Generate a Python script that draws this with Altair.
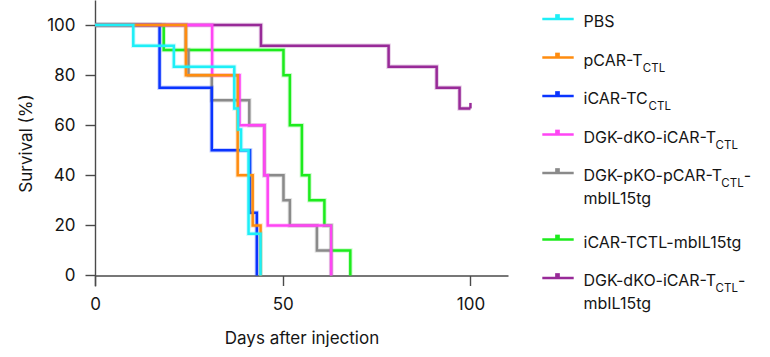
import altair as alt
import pandas as pd

# ---------------- data ----------------
groups = ["PBS", "pCAR-TCTL", "iCAR-TCCTL", "DGK-dKO-iCAR-TCTL",
          "DGK-pKO-pCAR-TCTL-mbIL15tg", "iCAR-TCTL-mbIL15tg",
          "DGK-dKO-iCAR-TCTL-mbIL15tg"]
colors = ["#1EEFF7", "#FF8C0F", "#0A34FF", "#FF45F4", "#8A8A8A", "#1DEB1D", "#982A98"]

pbs_days = [0, 10.2, 21.0, 37.1, 38.1, 38.9, 40.9, 44.1]
pbs_surv = [100, 91.7, 83.3, 66.7, 58.3, 50, 16.7, 0]
pcar_days = [0, 24.2, 38.0, 42.0, 44.1]
pcar_surv = [100, 80, 40, 20, 0]
icar_days = [0, 17.2, 31.1, 41.3, 43.1]
icar_surv = [100, 75, 50, 25, 0]
dgk_days = [0, 31.2, 38.5, 45.1, 46.0, 62.9]
dgk_surv = [100, 80, 60, 40, 20, 0]
pko15_days = [0, 24.2, 24.9, 31.1, 41.1, 45.1, 50.2, 51.9, 59.1, 62.9]
pko15_surv = [100, 90, 80, 70, 60, 40, 30, 20, 10, 0]
icar15_days = [0, 18.3, 50.2, 51.9, 55.1, 57.1, 61.1, 62.9, 68.0]
icar15_surv = [100, 90, 80, 60, 40, 30, 20, 10, 0]
dko15_days = [0, 44.2, 78.2, 91.0, 97.1, 100.0]
dko15_surv = [100, 91.7, 83.3, 75, 66.7, 66.7]

censor_group = ["DGK-dKO-iCAR-TCTL-mbIL15tg"]
censor_days = [100.0]
censor_surv = [66.7]

x_ticks = [0, 50, 100]
y_ticks = [0, 20, 40, 60, 80, 100]

# legend label pieces
leg_main = ["PBS", "pCAR-T", "iCAR-TC", "DGK-dKO-iCAR-T", "DGK-pKO-pCAR-T",
            "iCAR-TCTL-mbIL15tg", "DGK-dKO-iCAR-T"]
leg_sub = ["", "CTL", "CTL", "CTL", "CTL", "", "CTL"]
leg_tail = ["", "", "", "", "-", "", "-"]
leg_line2 = ["", "", "", "", "mbIL15tg", "", "mbIL15tg"]

series = [
    (pbs_days, pbs_surv), (pcar_days, pcar_surv), (icar_days, icar_surv),
    (dgk_days, dgk_surv), (pko15_days, pko15_surv), (icar15_days, icar15_surv),
    (dko15_days, dko15_surv),
]
rows = []
for g, (ds, ss) in zip(groups, series):
    for d, s in zip(ds, ss):
        rows.append({"group": g, "day": d, "surv": s})
surv_df = pd.DataFrame(rows)
censor_df = pd.DataFrame({"group": censor_group, "day": censor_days, "surv": censor_surv})

FONT = "Inter"
INK = "#151515"
AXC = "#4a4a4a"

color_scale = alt.Scale(domain=groups, range=colors)
x_scale = alt.Scale(domain=[0, 110], nice=False, zero=False)
y_scale = alt.Scale(domain=[-4.2, 110], nice=False, zero=False)

base = alt.Chart(surv_df).encode(
    x=alt.X("day:Q", scale=x_scale,
            axis=alt.Axis(values=x_ticks, title="Days after injection", tickSize=10,
                          offset=-10.5, labelPadding=11, titlePadding=18,
                          labelFlush=False, grid=False)),
    y=alt.Y("surv:Q", scale=y_scale,
            axis=alt.Axis(values=y_ticks, title="Survival (%)", tickSize=10,
                          labelPadding=10, titlePadding=11, grid=False,
                          labelFlush=False)),
    color=alt.Color("group:N", scale=color_scale, legend=None),
)

draw_order = [6, 5, 4, 2, 3, 1, 0]
layers = []
for i in draw_order:
    g = groups[i]
    layers.append(base.mark_line(interpolate="step-after", strokeWidth=4.5, opacity=0.22)
                  .transform_filter(alt.datum.group == g))
    layers.append(base.mark_line(interpolate="step-after", strokeWidth=2.5)
                  .transform_filter(alt.datum.group == g))

censor = alt.Chart(censor_df).transform_calculate(top="datum.surv + 2.2").mark_rule(
    strokeWidth=2.5).encode(
    x=alt.X("day:Q", scale=x_scale),
    y=alt.Y("surv:Q", scale=y_scale),
    y2="top:Q",
    color=alt.Color("group:N", scale=color_scale, legend=None),
)

plot = alt.layer(*layers, censor).properties(width=413, height=286)

# ---------------- legend built from the label arrays ----------------
INTER_W = {
    "A": 0.681, "B": 0.654, "C": 0.723, "D": 0.719, "G": 0.740, "I": 0.253,
    "K": 0.646, "L": 0.549, "O": 0.768, "P": 0.634, "R": 0.647, "S": 0.625,
    "T": 0.629, "a": 0.548, "b": 0.587, "c": 0.537, "d": 0.587, "g": 0.587,
    "i": 0.227, "l": 0.227, "m": 0.867, "p": 0.587, "t": 0.359, "-": 0.402,
    "1": 0.45, "5": 0.6,
}
MAIN_FS = 16
SUB_FS = 11.5


def text_w(s, size):
    return sum(INTER_W.get(c, 0.6) for c in s) * size


LW, LH = 245, 320
SYM_X0, SYM_X1, SYM_MID, TEXT_X = 24.3, 55.7, 39.5, 65.5
FIRST, STEP, EXTRA = 19.0, 38.5, 28.0

leg_rows = []
pos = FIRST
for i, g in enumerate(groups):
    sx = TEXT_X + text_w(leg_main[i], MAIN_FS) + 0.6
    tx = sx + text_w(leg_sub[i], SUB_FS) + 0.5
    leg_rows.append({"group": g, "pos": pos, "main": leg_main[i], "sub": leg_sub[i],
                     "tail": leg_tail[i], "line2": leg_line2[i],
                     "x0": SYM_X0, "x1": SYM_X1, "xm": SYM_MID, "xt0": TEXT_X,
                     "xs": sx, "xt": tx})
    pos += STEP + (EXTRA if leg_line2[i] else 0)
leg_df = pd.DataFrame(leg_rows)

lx = alt.Scale(domain=[0, LW], nice=False, zero=False)
ly = alt.Scale(domain=[0, LH], nice=False, zero=False, reverse=True)
lbase = alt.Chart(leg_df)
ycode = alt.Y("pos:Q", scale=ly, axis=None)
ccode = alt.Color("group:N", scale=color_scale, legend=None)

sym_line = lbase.mark_rule(strokeWidth=2.5).encode(
    x=alt.X("x0:Q", scale=lx, axis=None), x2="x1:Q", y=ycode, color=ccode)
sym_sq = lbase.mark_square(size=22, opacity=1, yOffset=-2.5).encode(
    x=alt.X("xm:Q", scale=lx, axis=None), y=ycode, color=ccode)
t_main = lbase.mark_text(align="left", baseline="alphabetic", dy=8, font=FONT,
                         fontSize=MAIN_FS, color=INK).encode(
    x=alt.X("xt0:Q", scale=lx, axis=None), y=ycode, text="main:N")
t_sub = lbase.mark_text(align="left", baseline="alphabetic", dy=14, font=FONT,
                        fontSize=SUB_FS, color=INK).encode(
    x=alt.X("xs:Q", scale=lx, axis=None), y=ycode, text="sub:N")
t_tail = lbase.mark_text(align="left", baseline="alphabetic", dy=8, font=FONT,
                         fontSize=MAIN_FS, color=INK).encode(
    x=alt.X("xt:Q", scale=lx, axis=None), y=ycode, text="tail:N")
t_line2 = lbase.mark_text(align="left", baseline="alphabetic", dy=30.5, font=FONT,
                          fontSize=MAIN_FS, color=INK).encode(
    x=alt.X("xt0:Q", scale=lx, axis=None), y=ycode, text="line2:N")

legend = alt.layer(sym_line, sym_sq, t_main, t_sub, t_tail, t_line2).properties(
    width=LW, height=LH)

chart = alt.hconcat(plot, legend, spacing=10).properties(
    padding={"left": 17, "top": 0, "right": 0, "bottom": 0}
).configure_view(stroke=None).configure_axis(
    labelFont=FONT, titleFont=FONT, labelFontSize=17, titleFontSize=17,
    titleFontWeight="normal", labelColor=INK, titleColor=INK,
    domainColor=AXC, tickColor=AXC, domainWidth=1.4, tickWidth=1.4,
)

chart.save("out.html", embed_options={"renderer": "svg", "actions": False})
